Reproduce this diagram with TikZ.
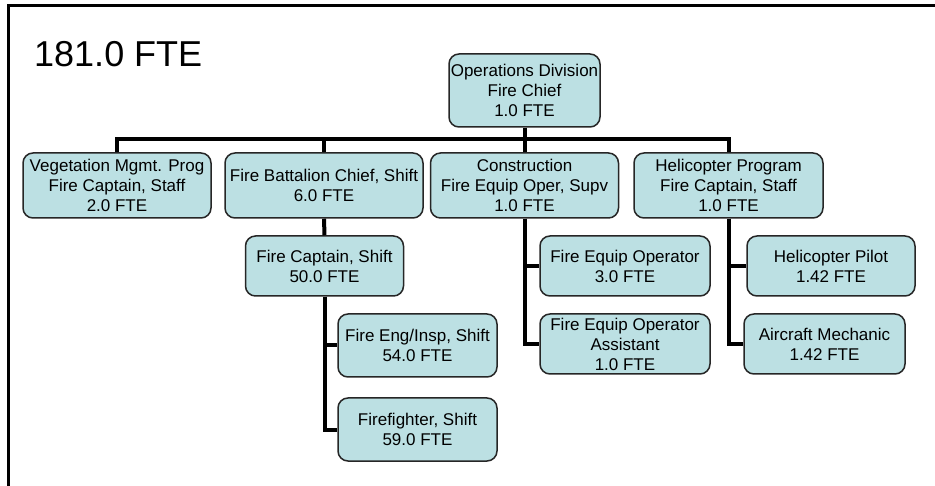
\documentclass[tikz,border=0pt]{standalone}
\usepackage{fontspec}
\setmainfont{Liberation Sans}
\definecolor{boxfill}{HTML}{BCE0E3}
\definecolor{boxline}{HTML}{262626}
\tikzset{
  orgbox/.style={draw=boxline, line width=1.5pt, fill=boxfill, rounded corners=10pt,
    align=center, inner sep=0pt, font=\fontsize{17}{20}\selectfont},
  link/.style={draw=black, line width=4pt},
}
\newcommand{\orgnode}[6]{% name, cx, cy, w, h, text
  \node[orgbox, minimum width=#4, minimum height=#5] (#1) at (#2,#3) {#6};}
\begin{document}
\begin{tikzpicture}[x=1pt, y=-1pt]
  \useasboundingbox (0,0) rectangle (935,486);
  % slide frame
  \draw[line width=3pt] (8,486) -- (8,6) -- (935,6);
  % headcount total
  \node[anchor=base west, inner sep=0pt, font=\fontsize{36}{40}\selectfont] (total) at (34,67) {181.0 FTE};

  % top level
  \orgnode{ops}{524.5}{90.5}{151pt}{73pt}{Operations Division\\Fire Chief\\1.0 FTE}
  % second level
  \orgnode{veg}{117}{185.5}{188pt}{65pt}{Vegetation Mgmt. Prog\\Fire Captain, Staff\\2.0 FTE}
  \orgnode{bat}{324}{185.5}{198pt}{65pt}{Fire Battalion Chief, Shift\\6.0 FTE}
  \orgnode{con}{524.5}{185.5}{188pt}{65pt}{Construction\\Fire Equip Oper, Supv\\1.0 FTE}
  \orgnode{heli}{728.5}{185.5}{189pt}{65pt}{Helicopter Program\\Fire Captain, Staff\\1.0 FTE}
  % battalion branch
  \orgnode{cap}{324.5}{266}{158pt}{60pt}{Fire Captain, Shift\\50.0 FTE}
  \orgnode{eng}{417.5}{345.5}{159pt}{63pt}{Fire Eng/Insp, Shift\\54.0 FTE}
  \orgnode{ff}{417.5}{429.5}{159pt}{63pt}{Firefighter, Shift\\59.0 FTE}
  % construction branch
  \orgnode{feo}{625}{266}{170pt}{60pt}{Fire Equip Operator\\3.0 FTE}
  \orgnode{feoa}{625}{344}{170pt}{60pt}{Fire Equip Operator\\Assistant\\1.0 FTE}
  % helicopter branch
  \orgnode{pilot}{831}{266}{168pt}{60pt}{Helicopter Pilot\\1.42 FTE}
  \orgnode{mech}{824.5}{344}{161pt}{60pt}{Aircraft Mechanic\\1.42 FTE}

  % connectors
  \coordinate (bus) at (0,139);
  \draw[link] (ops.south) -- (ops.south |- bus);
  \draw[link] (veg.north) -- (veg.north |- bus) -| (heli.north);
  \draw[link] (bat.north) -- (bat.north |- bus);
  \draw[link] (con.north) -- (con.north |- bus);
  \draw[link] (bat.south) -- (cap.north);
  \draw[link] (cap.south) |- (eng.west);
  \draw[link] (cap.south) |- (ff.west);
  \draw[link] (con.south) |- (feo.west);
  \draw[link] (con.south) |- (feoa.west);
  \draw[link] (heli.south) |- (pilot.west);
  \draw[link] (heli.south) |- (mech.west);
\end{tikzpicture}
\end{document}
